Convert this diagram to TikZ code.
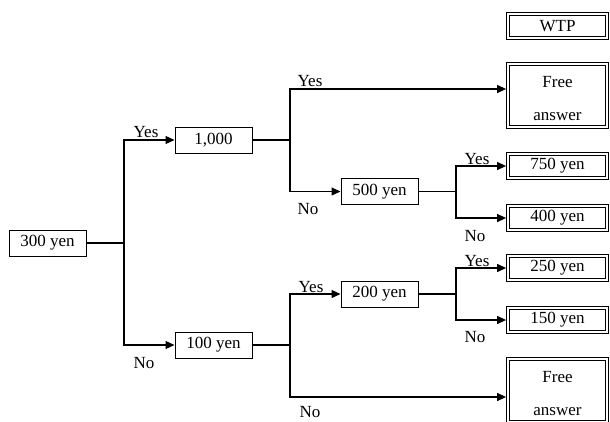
\documentclass[tikz,border=0pt]{standalone}
\usepackage{fontspec}
\setmainfont{Liberation Serif}
\usetikzlibrary{arrows.meta}
\begin{document}
\begin{tikzpicture}[x=1pt,y=-1pt,
  every node/.style={font=\fontsize{17}{33}\selectfont},
  box/.style={draw, line width=1pt, minimum width=77pt, minimum height=26pt, inner sep=0pt},
  dbox/.style={draw, line width=1.1pt, double, double distance=1.6pt, minimum width=99pt, inner sep=0pt, outer sep=1.9pt, align=center},
  conn/.style={line width=1.2pt},
  arr/.style={conn, -{Triangle[length=9pt,width=8pt]}},
  lbl/.style={inner sep=0pt}]
\useasboundingbox (0,0) rectangle (610,421);
% decision boxes
\node[box] (n300) at (47.5,243) {300 yen};
\node[box] (n1000) at (213.5,140) {1,000};
\node[box] (n100) at (213.5,345) {100 yen};
\node[box] (n500) at (379.5,191.5) {500 yen};
\node[box] (n200) at (379.5,294) {200 yen};
% WTP boxes
\node[dbox, minimum height=24pt] (wtp) at (557.5,26) {WTP};
\node[dbox, minimum height=63pt] (fa1) at (557.5,95.5) {\rule{0pt}{17pt}Free\\answer};
\node[dbox, minimum height=24pt] (w750) at (557.5,166) {750 yen};
\node[dbox, minimum height=24pt] (w400) at (557.5,218) {400 yen};
\node[dbox, minimum height=24pt] (w250) at (557.5,268) {250 yen};
\node[dbox, minimum height=24pt] (w150) at (557.5,320) {150 yen};
\node[dbox, minimum height=63pt] (fa2) at (557.5,390.5) {\rule{0pt}{17pt}Free\\answer};
% junctions
\coordinate (j0) at (124,243);
\coordinate (j1) at (290,140);
\coordinate (j2) at (290,345);
\coordinate (j3) at (456,191.5);
\coordinate (j4) at (456,294);
\coordinate (a1) at ([yshift=6.5pt]fa1.west);
\coordinate (a2) at ([yshift=-6.5pt]fa2.west);
% connectors
\draw[conn] (n300.east) -- (j0);
\draw[arr] (j0) |- (n1000.west);
\draw[arr] (j0) |- (n100.west);
\draw[conn] (n1000.east) -- (j1);
\draw[arr] (j1) |- (a1);
\draw[arr] (j1) |- (n500.west);
\draw[conn] (n100.east) -- (j2);
\draw[arr] (j2) |- (n200.west);
\draw[arr] (j2) |- (a2);
\draw[conn] (n500.east) -- (j3);
\draw[arr] (j3) |- (w750.west);
\draw[arr] (j3) |- (w400.west);
\draw[conn] (n200.east) -- (j4);
\draw[arr] (j4) |- (w250.west);
\draw[arr] (j4) |- (w150.west);
% labels
\node[lbl] (l1) at (146,132) {Yes};
\node[lbl] (l2) at (144,363) {No};
\node[lbl] (l3) at (310,81) {Yes};
\node[lbl] (l4) at (308,209) {No};
\node[lbl] (l5) at (477,159) {Yes};
\node[lbl] (l6) at (475,236) {No};
\node[lbl] (l7) at (477,261) {Yes};
\node[lbl] (l8) at (475,337) {No};
\node[lbl] (l9) at (311,287) {Yes};
\node[lbl] (l10) at (310,412) {No};
\end{tikzpicture}
\end{document}
